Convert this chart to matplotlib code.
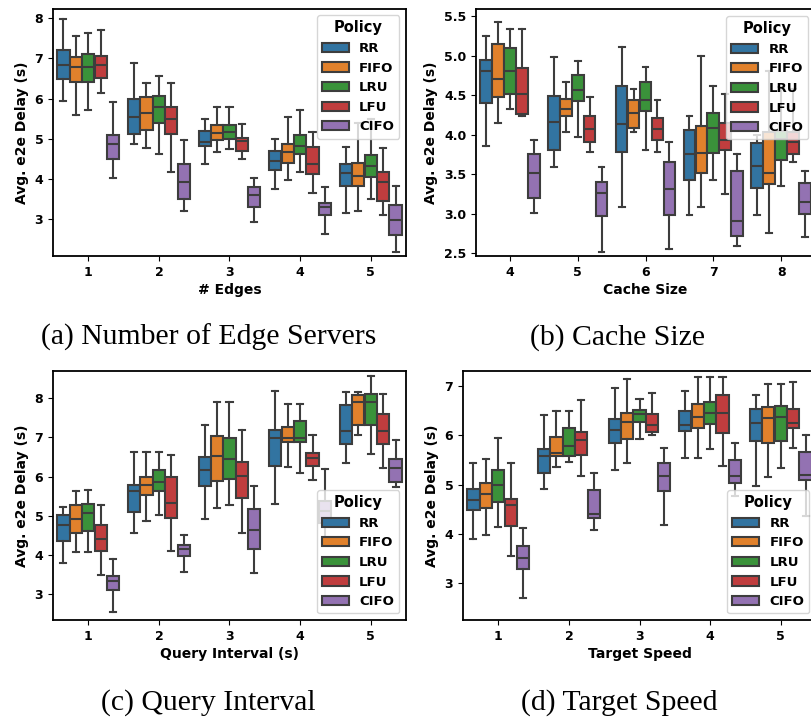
import matplotlib
matplotlib.use("Agg")
from matplotlib import pyplot as plt
from matplotlib.patches import Patch

POLICIES = ["RR", "FIFO", "LRU", "LFU", "CIFO"]
COLORS = ["#3274a1", "#e1812c", "#3a923a", "#c03d3e", "#9372b2"]

# (a) number of edge servers -- rows follow POLICIES, columns follow the x groups
A_GROUPS = ["1", "2", "3", "4", "5"]
A_HI = [[7.98, 6.88, 5.50, 5.00, 4.79], [7.56, 6.39, 5.79, 5.54, 5.40],
        [7.63, 6.57, 5.79, 5.72, 5.50], [7.71, 6.39, 5.36, 5.17, 4.78],
        [5.91, 4.96, 4.03, 3.79, 3.83]]
A_Q3 = [[7.21, 5.99, 5.19, 4.69, 4.36], [7.04, 6.03, 5.33, 4.88, 4.40],
        [7.12, 6.07, 5.33, 5.08, 4.59], [7.07, 5.79, 5.02, 4.79, 4.17],
        [5.08, 4.36, 3.80, 3.41, 3.35]]
A_MED = [[6.84, 5.54, 4.92, 4.45, 4.15], [6.78, 5.64, 5.14, 4.67, 4.07],
         [6.78, 5.79, 5.17, 4.83, 4.32], [6.84, 5.48, 4.94, 4.36, 3.93],
         [4.88, 3.91, 3.60, 3.31, 2.98]]
A_Q1 = [[6.49, 5.12, 4.82, 4.21, 3.83], [6.40, 5.21, 4.96, 4.40, 3.83],
        [6.40, 5.39, 5.00, 4.61, 4.05], [6.51, 5.11, 4.69, 4.12, 3.45],
        [4.50, 3.50, 3.29, 3.10, 2.60]]
A_LO = [[5.93, 4.86, 4.36, 3.76, 3.14], [5.60, 4.78, 4.67, 3.97, 3.21],
        [5.72, 4.61, 4.75, 4.16, 3.49], [6.14, 4.17, 4.50, 3.66, 3.10],
        [4.02, 3.21, 2.92, 2.64, 2.19]]

# (b) cache size
B_GROUPS = ["4", "5", "6", "7", "8"]
B_HI = [[5.25, 4.98, 5.11, 4.24, 4.00], [5.42, 4.67, 4.58, 4.99, 4.80],
        [5.34, 4.93, 4.86, 4.62, 4.60], [5.34, 4.47, 4.44, 4.51, 4.58],
        [3.93, 3.59, 3.91, 3.76, 3.54]]
B_Q3 = [[4.94, 4.49, 4.62, 4.06, 3.90], [5.15, 4.45, 4.44, 4.11, 4.04],
        [5.10, 4.75, 4.66, 4.27, 4.05], [4.84, 4.24, 4.21, 4.15, 4.04],
        [3.76, 3.40, 3.65, 3.54, 3.39]]
B_MED = [[4.80, 4.16, 4.14, 3.75, 3.61], [4.70, 4.33, 4.27, 3.77, 3.51],
         [4.80, 4.57, 4.44, 4.08, 3.94], [4.51, 4.07, 4.07, 3.93, 3.91],
         [3.51, 3.26, 3.31, 2.91, 3.15]]
B_Q1 = [[4.40, 3.81, 3.78, 3.43, 3.33], [4.48, 4.24, 4.09, 3.52, 3.37],
        [4.52, 4.42, 4.30, 3.77, 3.68], [4.26, 3.91, 3.93, 3.80, 3.75],
        [3.20, 2.97, 2.98, 2.72, 3.00]]
B_LO = [[3.86, 3.59, 3.09, 2.99, 2.98], [4.15, 4.03, 4.03, 3.08, 2.76],
        [4.32, 3.97, 3.81, 3.43, 3.35], [4.23, 3.78, 3.78, 3.25, 3.66],
        [3.01, 2.52, 2.56, 2.59, 2.71]]

# (c) query interval
C_GROUPS = ["1", "2", "3", "4", "5"]
C_HI = [[5.21, 6.63, 7.31, 8.20, 8.17], [5.62, 6.63, 7.91, 7.85, 8.17],
        [5.66, 6.63, 7.91, 7.85, 8.58], [5.28, 6.54, 7.18, 7.06, 8.10],
        [3.90, 4.50, 5.77, 6.20, 6.93]]
C_Q3 = [[5.02, 5.79, 6.51, 7.20, 7.83], [5.28, 5.98, 7.04, 7.27, 8.09],
        [5.29, 6.18, 6.99, 7.42, 8.10], [4.76, 5.98, 6.37, 6.61, 7.61],
        [3.46, 4.25, 5.17, 5.38, 6.45]]
C_MED = [[4.76, 5.62, 6.17, 6.99, 7.17], [4.92, 5.78, 6.52, 6.99, 7.90],
         [5.06, 5.87, 6.45, 6.99, 7.91], [4.39, 5.32, 6.01, 6.48, 7.17],
         [3.34, 4.15, 4.63, 5.12, 6.22]]
C_Q1 = [[4.35, 5.10, 5.77, 6.26, 6.84], [4.56, 5.53, 5.88, 6.88, 7.33],
        [4.61, 5.62, 5.94, 6.88, 7.33], [4.09, 4.95, 5.44, 6.28, 6.84],
        [3.09, 3.96, 4.15, 4.80, 5.85]]
C_LO = [[3.79, 4.55, 4.92, 5.29, 6.35], [4.07, 4.86, 5.19, 6.24, 7.07],
        [4.07, 5.01, 5.27, 6.08, 6.58], [3.49, 4.09, 4.56, 5.90, 6.21],
        [2.54, 3.55, 3.53, 4.30, 5.74]]

# (d) target speed
D_GROUPS = ["1", "2", "3", "4", "5"]
D_HI = [[5.45, 6.42, 6.97, 6.90, 6.82], [5.52, 6.49, 7.14, 7.19, 7.05],
        [5.94, 6.49, 6.74, 7.19, 7.05], [5.45, 6.73, 6.86, 7.19, 7.09],
        [4.11, 5.24, 5.75, 5.84, 6.00]]
D_Q3 = [[4.91, 5.72, 6.34, 6.50, 6.54], [5.04, 5.96, 6.45, 6.64, 6.57],
        [5.30, 6.15, 6.52, 6.69, 6.59], [4.71, 6.08, 6.43, 6.82, 6.54],
        [3.75, 4.89, 5.44, 5.50, 5.67]]
D_MED = [[4.68, 5.58, 6.11, 6.21, 6.25], [4.81, 5.65, 6.28, 6.38, 6.35],
         [5.00, 5.79, 6.43, 6.45, 6.38], [4.59, 5.91, 6.21, 6.45, 6.26],
         [3.50, 4.40, 5.17, 5.17, 5.19]]
D_Q1 = [[4.49, 5.24, 5.84, 6.09, 5.89], [4.52, 5.58, 5.92, 6.15, 5.84],
        [4.64, 5.58, 6.28, 6.23, 5.89], [4.16, 5.60, 6.08, 6.04, 6.15],
        [3.29, 4.33, 4.88, 5.04, 5.09]]
D_LO = [[3.89, 4.91, 5.29, 5.54, 4.97], [3.98, 5.35, 5.45, 5.54, 5.15],
        [4.15, 5.46, 5.92, 5.72, 5.34], [3.55, 5.17, 6.00, 5.38, 5.74],
        [2.69, 4.08, 4.18, 4.78, 4.37]]

LINE = "#3d3d3d"
STEP = 0.176
BOXW = 0.172

W, H = 812, 717


def px_axes(fig, left, top, right, bottom):
    return fig.add_axes([left / W, 1 - bottom / H, (right - left) / W, (bottom - top) / H])


def draw_panel(ax, groups, hi, q3, med, q1, lo, xlabel, ylim, yticks, ytick_fmt, legend_loc):
    for k in range(len(POLICIES)):
        stats = []
        positions = []
        for g in range(len(groups)):
            stats.append(dict(whislo=lo[k][g], q1=q1[k][g], med=med[k][g],
                              q3=q3[k][g], whishi=hi[k][g], fliers=[]))
            positions.append(g + (k - 2) * STEP)
        ax.bxp(stats, positions=positions, widths=BOXW, patch_artist=True,
               showfliers=False, capwidths=BOXW / 2, manage_ticks=False,
               boxprops=dict(facecolor=COLORS[k], edgecolor=LINE, linewidth=1.5),
               medianprops=dict(color=LINE, linewidth=1.5),
               whiskerprops=dict(color=LINE, linewidth=1.5),
               capprops=dict(color=LINE, linewidth=1.5))
    ax.set_xlim(-0.5, len(groups) - 0.5)
    ax.set_xticks(range(len(groups)))
    ax.set_xticklabels(groups)
    ax.set_ylim(*ylim)
    ax.set_yticks(yticks)
    ax.set_yticklabels([ytick_fmt.format(v) for v in yticks])
    for lab in ax.get_xticklabels() + ax.get_yticklabels():
        lab.set_fontweight("bold")
        lab.set_fontsize(9)
    ax.set_xlabel(xlabel, fontweight="bold", fontsize=10, labelpad=3)
    ax.set_ylabel("Avg. e2e Delay (s)", fontweight="bold", fontsize=10, labelpad=4)
    for s in ax.spines.values():
        s.set_linewidth(1.3)
    handles = [Patch(facecolor=c, edgecolor=LINE, linewidth=1.5, label=p)
               for p, c in zip(POLICIES, COLORS)]
    ax.legend(handles=handles, title="Policy", loc=legend_loc,
              prop=dict(weight="bold", size=9.5),
              title_fontproperties=dict(weight="bold", size=10.5),
              handlelength=2.0, borderaxespad=0.5)


fig = plt.figure(figsize=(W / 100, H / 100), dpi=100)

ax_a = px_axes(fig, 53, 8.5, 406, 256)
draw_panel(ax_a, A_GROUPS, A_HI, A_Q3, A_MED, A_Q1, A_LO, "# Edges",
           (2.08, 8.24), [3, 4, 5, 6, 7, 8], "{:g}", "upper right")

ax_b = px_axes(fig, 476, 9.3, 815, 256)
draw_panel(ax_b, B_GROUPS, B_HI, B_Q3, B_MED, B_Q1, B_LO, "Cache Size",
           (2.466, 5.585), [2.5, 3.0, 3.5, 4.0, 4.5, 5.0, 5.5], "{:.1f}", "upper right")

ax_c = px_axes(fig, 53, 371, 406, 620)
draw_panel(ax_c, C_GROUPS, C_HI, C_Q3, C_MED, C_Q1, C_LO, "Query Interval (s)",
           (2.33, 8.70), [3, 4, 5, 6, 7, 8], "{:g}", "lower right")

ax_d = px_axes(fig, 463, 371, 816, 620)
draw_panel(ax_d, D_GROUPS, D_HI, D_Q3, D_MED, D_Q1, D_LO, "Target Speed",
           (2.25, 7.31), [3, 4, 5, 6, 7], "{:g}", "lower right")

captions = [("(a) Number of Edge Servers", 209, 345), ("(b) Cache Size", 618, 345),
            ("(c) Query Interval", 208, 710), ("(d) Target Speed", 619, 710)]
for text, x, y in captions:
    fig.text(x / W, 1 - y / H, text, ha="center", va="baseline",
             family="Liberation Serif", fontsize=21.4)

fig.savefig("out.png", dpi=100)
